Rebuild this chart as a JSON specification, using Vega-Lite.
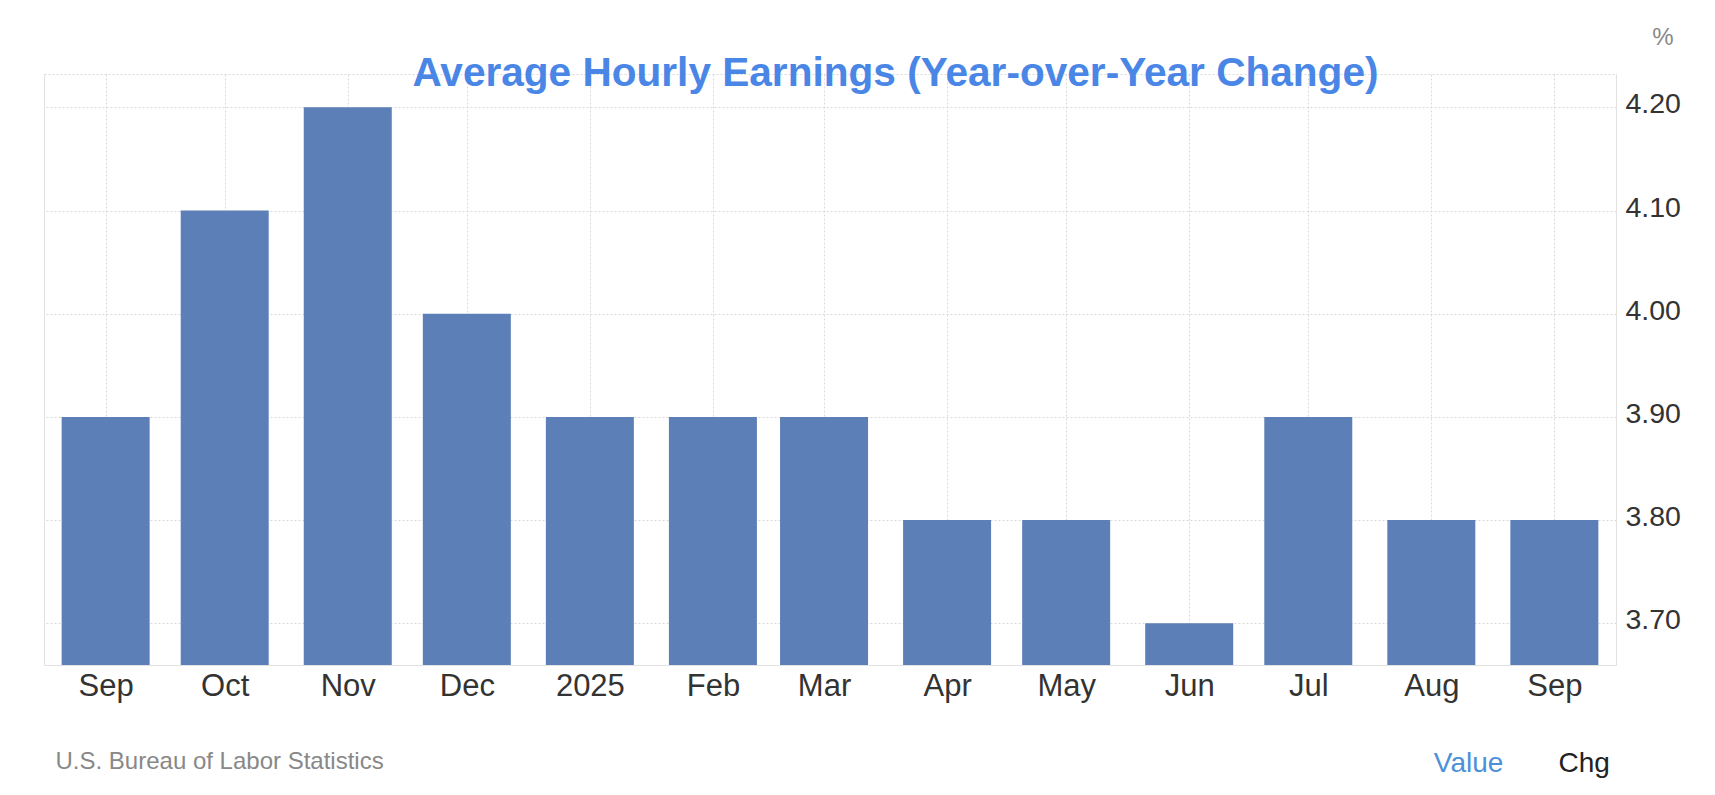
{
  "$schema": "https://vega.github.io/schema/vega-lite/v6.json",
  "width": 1572,
  "height": 591,
  "autosize": {"type": "none"},
  "padding": {"left": 44, "top": 74, "right": 99, "bottom": 130},
  "background": "white",
  "title": {
    "text": "Average Hourly Earnings (Year-over-Year Change)",
    "anchor": "middle",
    "frame": "group",
    "font": "Liberation Sans",
    "fontSize": 40.6,
    "fontWeight": "bold",
    "color": "#4a86e6",
    "dx": 65.5,
    "baseline": "alphabetic",
    "offset": 0,
    "dy": 102
  },
  "data": {
    "values": [
      {"date": "2024-09-01", "value": 3.9},
      {"date": "2024-10-01", "value": 4.1},
      {"date": "2024-11-01", "value": 4.2},
      {"date": "2024-12-01", "value": 4.0},
      {"date": "2025-01-01", "value": 3.9},
      {"date": "2025-02-01", "value": 3.9},
      {"date": "2025-03-01", "value": 3.9},
      {"date": "2025-04-01", "value": 3.8},
      {"date": "2025-05-01", "value": 3.8},
      {"date": "2025-06-01", "value": 3.7},
      {"date": "2025-07-01", "value": 3.9},
      {"date": "2025-08-01", "value": 3.8},
      {"date": "2025-09-01", "value": 3.8}
    ]
  },
  "config": {
    "view": {"stroke": "#d9d9d9", "strokeDash": [2, 2]},
    "axis": {
      "labelFont": "Liberation Sans",
      "titleFont": "Liberation Sans",
      "labelColor": "#333333",
      "gridColor": "#d9d9d9",
      "gridDash": [2, 2],
      "domainColor": "#e2e2e2",
      "ticks": false,
      "tickSize": 0
    }
  },
  "layer": [
    {
      "mark": {"type": "bar", "width": 88, "color": "#5b7fb6", "clip": true},
      "encoding": {
        "x": {
          "field": "date",
          "type": "temporal",
          "scale": {
            "type": "utc",
            "domain": [
              {"year": 2024, "month": 8, "date": 17, "hours": 17, "minutes": 30, "utc": true},
              {"year": 2025, "month": 9, "date": 15, "hours": 6, "minutes": 30, "utc": true}
            ]
          },
          "axis": {
            "orient": "bottom",
            "tickCount": {"interval": "month", "step": 1},
            "labelExpr": "utcmonth(datum.value) == 0 ? utcFormat(datum.value, '%Y') : utcFormat(datum.value, '%b')",
            "labelFontSize": 31,
            "labelBaseline": "alphabetic",
            "labelPadding": 30,
            "labelFlush": false,
            "labelOverlap": false,
            "grid": true,
            "domain": true,
            "title": "U.S. Bureau of Labor Statistics",
            "titleFontSize": 24,
            "titleFontWeight": "normal",
            "titleColor": "#888888",
            "titleAlign": "left",
            "titleBaseline": "alphabetic",
            "titleX": 11,
            "titleY": 103.3
          }
        },
        "y": {
          "field": "value",
          "type": "quantitative",
          "scale": {"domain": [3.6596, 4.2323], "zero": false, "nice": false},
          "axis": {
            "orient": "right",
            "values": [3.7, 3.8, 3.9, 4.0, 4.1, 4.2],
            "format": ".2f",
            "labelFontSize": 28.5,
            "labelPadding": 9,
            "labelOffset": -3.5,
            "labelBaseline": "middle",
            "grid": true,
            "domain": true,
            "title": "%",
            "titleAngle": 0,
            "titleFontSize": 24,
            "titleFontWeight": "normal",
            "titleColor": "#888888",
            "titleAlign": "center",
            "titleBaseline": "alphabetic",
            "titleX": 46.5,
            "titleY": -30
          }
        }
      }
    },
    {
      "mark": {"type": "point", "opacity": 0},
      "encoding": {
        "x": {
          "field": "date",
          "type": "temporal",
          "scale": {
            "type": "utc",
            "domain": [
              {"year": 2024, "month": 8, "date": 17, "hours": 17, "minutes": 30, "utc": true},
              {"year": 2025, "month": 9, "date": 15, "hours": 6, "minutes": 30, "utc": true}
            ]
          },
          "axis": {
            "orient": "top",
            "labels": false,
            "grid": false,
            "domain": false,
            "title": "Chg",
            "titleFontSize": 28,
            "titleFontWeight": "normal",
            "titleColor": "#222222",
            "titleAlign": "left",
            "titleBaseline": "alphabetic",
            "titleX": 1514,
            "titleY": 697.7
          }
        },
        "y": {
          "field": "value",
          "type": "quantitative",
          "scale": {"domain": [3.6596, 4.2323], "zero": false, "nice": false},
          "axis": {
            "orient": "left",
            "labels": false,
            "grid": false,
            "domain": true,
            "title": "Value",
            "titleAngle": 0,
            "titleFontSize": 28,
            "titleFontWeight": "normal",
            "titleColor": "#4d90d8",
            "titleAlign": "left",
            "titleBaseline": "alphabetic",
            "titleX": 1389.3,
            "titleY": 697.7
          }
        }
      }
    }
  ],
  "resolve": {"scale": {"x": "independent", "y": "independent"}}
}
